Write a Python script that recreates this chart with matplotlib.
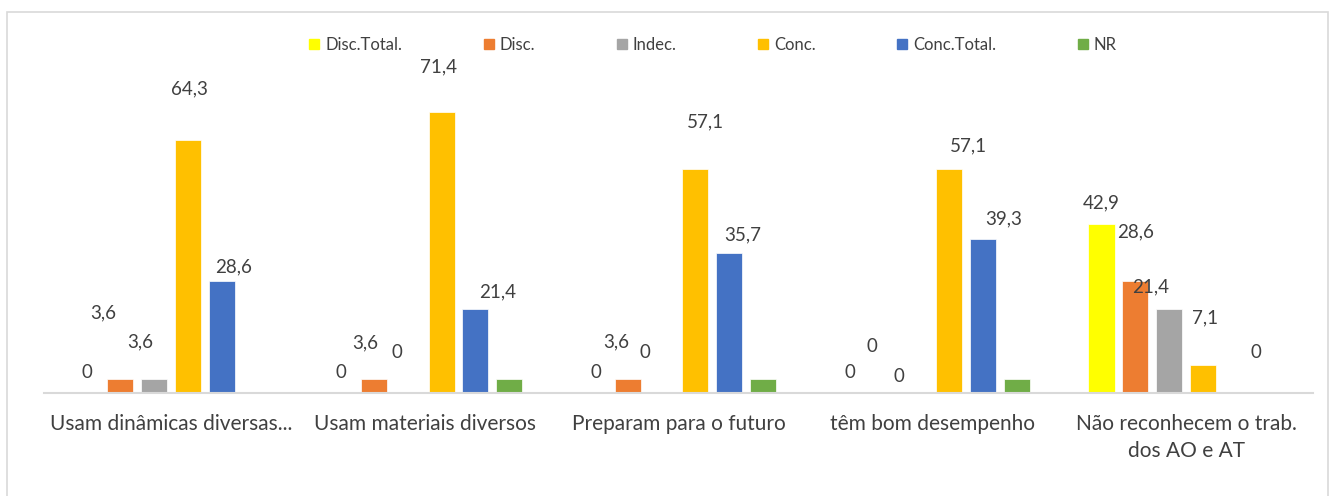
import matplotlib
matplotlib.use('Agg')
import matplotlib.pyplot as plt
from matplotlib.patches import Rectangle
import numpy as np

plt.rcParams['font.family'] = ['Lato', 'DejaVu Sans']

# === Data ===
categories = ['Usam dinâmicas diversas...', 'Usam materiais diversos',
              'Preparam para o futuro', 'têm bom desempenho',
              'Não reconhecem o trab.\ndos AO e AT']
series_names = ['Disc.Total.', 'Disc.', 'Indec.', 'Conc.', 'Conc.Total.', 'NR']
disc_total = [0, 0, 0, 0, 42.9]
disc = [3.6, 3.6, 3.6, 0, 28.6]
indec = [3.6, 0, 0, 0, 21.4]
conc = [64.3, 71.4, 57.1, 57.1, 7.1]
conc_total = [28.6, 21.4, 35.7, 39.3, 0]
nr = [0, 3.6, 3.6, 3.6, 0]
values = [disc_total, disc, indec, conc, conc_total, nr]

colors = ['#FFFF00', '#ED7D31', '#A5A5A5', '#FFC000', '#4472C4', '#70AD47']

# label offsets in pixels (labels were moved by hand in the original), None = no label
label_offsets = [
    [(1, 21), (1, 21), (2, 21), (2, 21), (0, 22)],
    [(-17, 66), (-9, 36), (-12, 37), (-10, 46), (0, 49)],
    [(-14, 37), (-11, 40), (-17, 40), (-16, 16), (-19, 22)],
    [(2, 51), (-3, 46), (10, 47), (19, 23), (2, 47)],
    [(12, 14), (22, 17), (13, 18), (21, 20), (19, 40)],
    None,
]

W, H = 1333, 496
fig = plt.figure(figsize=(W / 100, H / 100), dpi=100)
ax = fig.add_axes([44 / W, 103 / H, 1269 / W, 314.4 / H])

x = np.arange(len(categories))
slot = 0.8 / len(series_names)
bw = slot * 0.77

for k, (name, vals, col) in enumerate(zip(series_names, values, colors)):
    pos = x + (k - 2.5) * slot
    ax.bar(pos, vals, width=bw, color=col, edgecolor='white', linewidth=0.5, label=name, zorder=2)
    offs = label_offsets[k]
    if offs is None:
        continue
    for p, v, (dx, dy) in zip(pos, vals, offs):
        txt = '0' if v == 0 else f'{v:.1f}'.replace('.', ',')
        ax.annotate(txt, xy=(p, v), xytext=(dx, dy), textcoords='offset pixels',
                    ha='center', va='center', fontsize=13.5, color='#404040')

ax.set_xlim(-0.5, len(categories) - 0.5)
ax.set_ylim(0, 80)
ax.set_yticks([])
ax.set_xticks(x)
ax.set_xticklabels(categories, fontsize=15, color='#404040', linespacing=1.45)
ax.tick_params(axis='x', length=0, pad=15)
for s in ['top', 'right', 'left']:
    ax.spines[s].set_visible(False)
ax.spines['bottom'].set_color('#D9D9D9')
ax.spines['bottom'].set_linewidth(1.5)

# legend
handles = [Rectangle((0, 0), 1, 1, color=c) for c in colors]
fig.legend(handles, series_names, loc='center', bbox_to_anchor=(713 / W, 1 - 45 / H),
           ncol=6, frameon=False, fontsize=12, handlelength=0.6, handleheight=0.6,
           handletextpad=0.35, columnspacing=4.9, labelcolor='#404040')

# chart border
fig.patches.append(Rectangle((7 / W, -0.01), 1321 / W, 1 - 12 / H + 0.01,
                             transform=fig.transFigure, fill=False,
                             edgecolor='#D9D9D9', linewidth=1.2))

fig.savefig('out.png', dpi=100)
